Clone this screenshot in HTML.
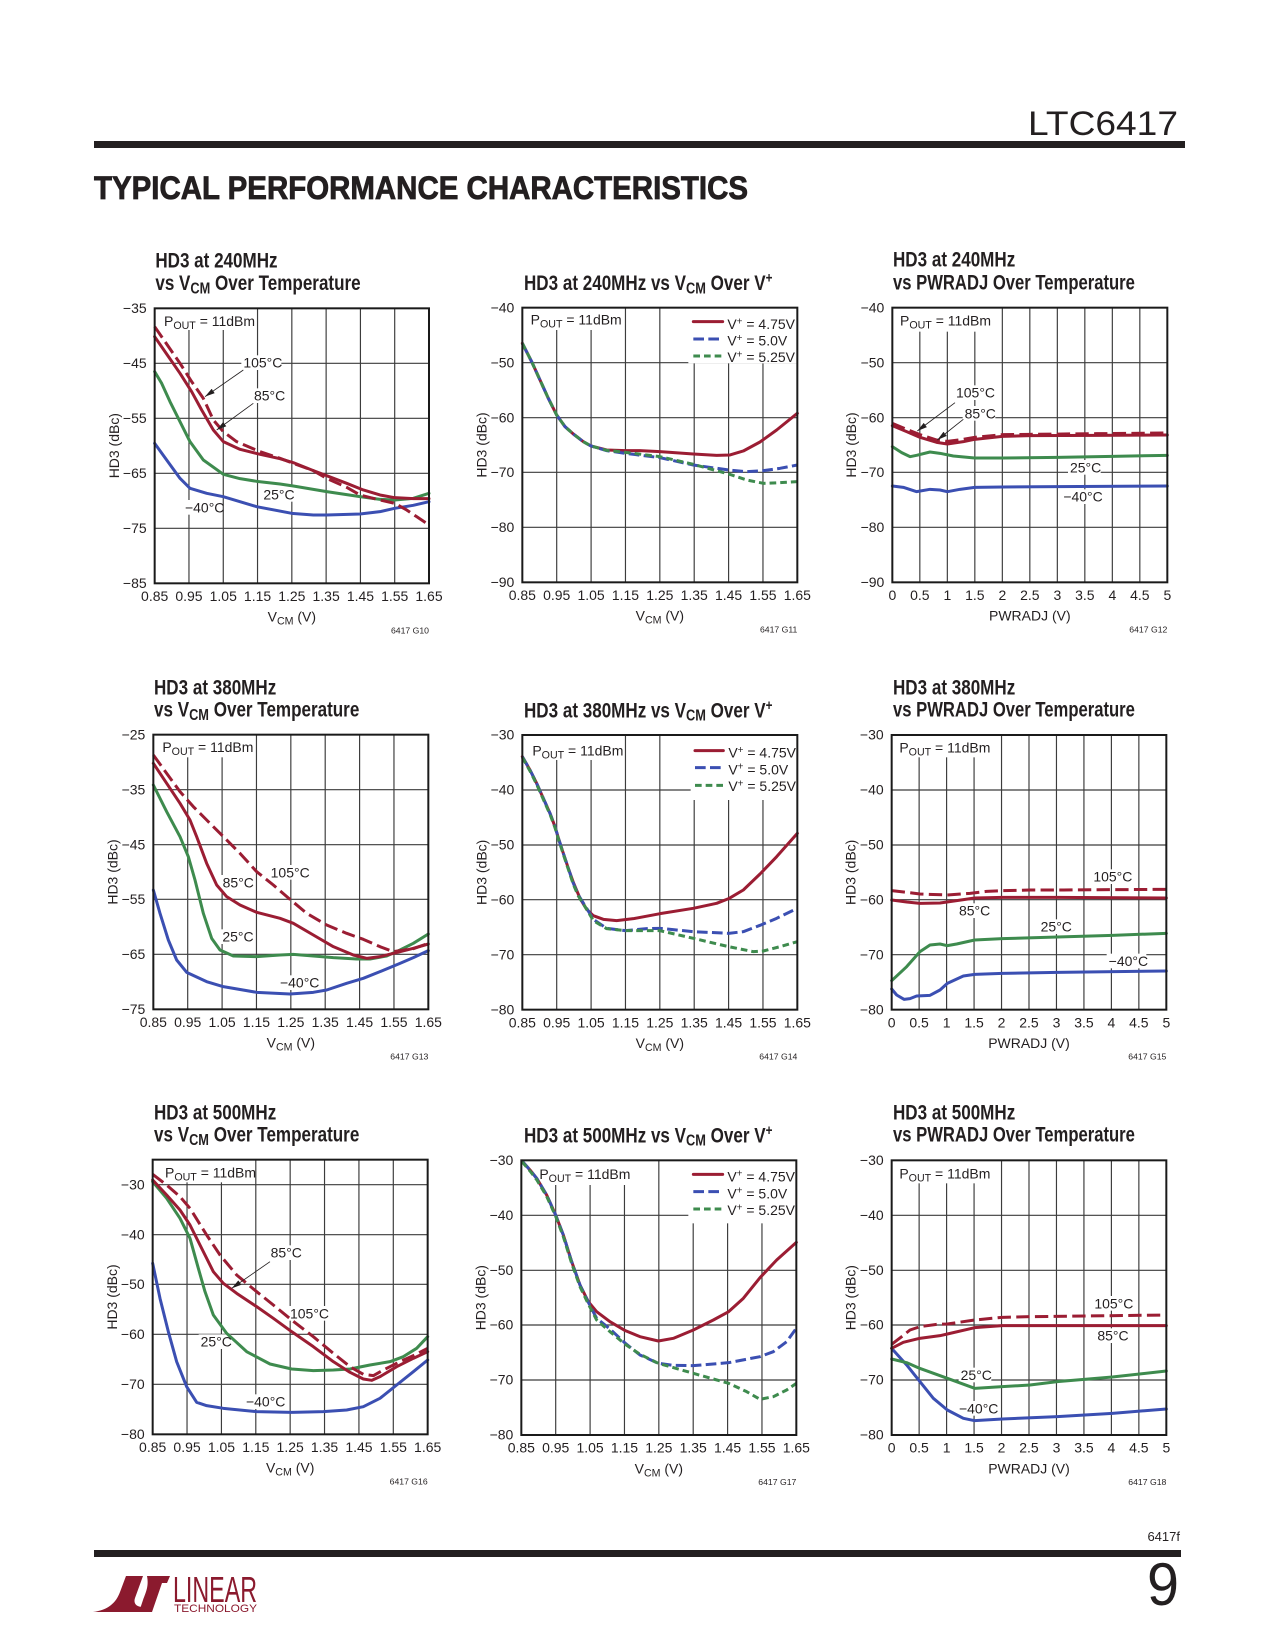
<!DOCTYPE html>
<html><head><meta charset="utf-8">
<style>
html,body{margin:0;padding:0;background:#fff;}
svg{display:block;}
svg text{font-family:"Liberation Sans",Arial,sans-serif;fill:#231f20;}
.tk{font-size:42px;}
.sm{font-size:26px;}
.ti{font-size:64px;font-weight:bold;}
.gd{stroke:#3c3c3c;stroke-width:3.5;fill:none;}
.fr{stroke:#1a1a1a;stroke-width:6;fill:none;}
.c{fill:none;stroke-width:9;stroke-linejoin:round;stroke-linecap:round;}
.rd{stroke:#9b1d33;}
.gn{stroke:#3e8b4e;}
.bu{stroke:#3b4fb2;}
.d1{stroke-dasharray:40 16;stroke-linecap:butt;}
.d2{stroke-dasharray:32 13;stroke-linecap:butt;}
.d3{stroke-dasharray:20 12;stroke-linecap:butt;}
.wb{fill:#fff;}
.ar{stroke:#231f20;stroke-width:2.5;fill:none;}
</style></head>
<body>
<svg width="1275" height="1650" viewBox="0 0 1275 1650" xmlns="http://www.w3.org/2000/svg">
<defs>
<marker id="ah" markerUnits="userSpaceOnUse" markerWidth="30" markerHeight="20" refX="30" refY="10" orient="auto"><path d="M0,2 L30,10 L0,18 z" fill="#231f20"/></marker>
</defs>

<!-- Header -->
<text x="1028" y="135" font-size="34" textLength="150" lengthAdjust="spacingAndGlyphs">LTC6417</text>
<rect x="94" y="141" width="1091" height="7" fill="#231f20"/>
<text x="94" y="199" font-size="32" font-weight="bold" textLength="654" lengthAdjust="spacingAndGlyphs" stroke="#231f20" stroke-width="0.8">TYPICAL PERFORMANCE CHARACTERISTICS</text>

<!-- ============ Chart 1 ============ -->
<g transform="translate(80,230) scale(0.33333)">
<text class="ti" transform="translate(226,112) scale(0.8,1)">HD3 at 240MHz</text>
<text class="ti" transform="translate(226,180) scale(0.8,1)">vs V<tspan font-size="48" dy="10">CM</tspan><tspan dy="-10"> Over Temperature</tspan></text>
<path class="gd" d="M326.9,235V1060M429.8,235V1060M532.6,235V1060M635.5,235V1060M738.4,235V1060M841.3,235V1060M944.1,235V1060M224,400H1047M224,565H1047M224,730H1047M224,895H1047"/>
<rect class="wb" x="226" y="237" width="289" height="63"/>
<rect class="wb" x="484" y="376" width="120" height="44"/>
<rect class="wb" x="516" y="475" width="97" height="44"/>
<rect class="wb" x="544" y="771" width="97" height="44"/>
<rect class="wb" x="309" y="810" width="117" height="44"/>
<path class="c bu" d="M224,640 L260,690 L300,745 L330,775 L380,790 L430,800 L530,830 L635,850 L700,855 L740,855 L840,852 L900,845 L944,835 L1000,826 L1047,815"/>
<path class="c gn" d="M224,425 L245,460 L270,515 L300,575 L330,635 L370,690 L430,733 L480,746 L530,754 L600,762 L640,768 L740,785 L840,800 L900,808 L944,810 L1000,805 L1047,790"/>
<path class="c rd" d="M224,320 L262,375 L300,430 L335,485 L365,540 L400,600 L430,635 L480,658 L540,673 L600,686 L640,698 L700,722 L740,737 L800,760 L850,780 L900,795 L944,803 L1000,806 L1047,806"/>
<path class="c rd d1" d="M224,290 L262,345 L300,400 L335,455 L370,505 L400,570 L430,605 L470,635 L540,665 L600,685 L640,700 L700,722 L740,745 L800,772 L840,795 L900,810 L944,820 L980,840 L1010,860 L1047,885"/>
<path class="ar" d="M490,420 L375,500" marker-end="url(#ah)"/>
<path class="ar" d="M520,520 L410,600" marker-end="url(#ah)"/>
<text class="tk" x="252" y="288">P<tspan font-size="32" dy="9">OUT</tspan><tspan dy="-9"> = 11dBm</tspan></text>
<text class="tk" x="490" y="413">105°C</text>
<text class="tk" x="522" y="512">85°C</text>
<text class="tk" x="550" y="808">25°C</text>
<text class="tk" x="315" y="847">−40°C</text>
<rect class="fr" x="224" y="235" width="823" height="825"/>
<g class="tk" text-anchor="end">
<text x="200" y="249">−35</text><text x="200" y="414">−45</text><text x="200" y="579">−55</text><text x="200" y="744">−65</text><text x="200" y="909">−75</text><text x="200" y="1074">−85</text>
</g>
<g class="tk" text-anchor="middle">
<text x="224" y="1113">0.85</text><text x="326.9" y="1113">0.95</text><text x="429.8" y="1113">1.05</text><text x="532.6" y="1113">1.15</text><text x="635.5" y="1113">1.25</text><text x="738.4" y="1113">1.35</text><text x="841.3" y="1113">1.45</text><text x="944.1" y="1113">1.55</text><text x="1047" y="1113">1.65</text>
<text x="635.5" y="1175">V<tspan font-size="32" dy="9">CM</tspan><tspan dy="-9"> (V)</tspan></text>
<text transform="translate(117,647) rotate(-90)" x="0" y="0">HD3 (dBc)</text>
</g>
<text class="sm" x="1047" y="1210" text-anchor="end">6417 G10</text>
</g>

<!-- ============ Chart 2 ============ -->
<g transform="translate(440,230) scale(0.33333)">
<text class="ti" transform="translate(252,180) scale(0.8,1)">HD3 at 240MHz vs V<tspan font-size="48" dy="10">CM</tspan><tspan dy="-10"> Over V</tspan><tspan font-size="44" dy="-22">+</tspan></text>
<path class="gd" d="M350.1,233V1057M453.3,233V1057M556.4,233V1057M659.5,233V1057M762.6,233V1057M865.8,233V1057M968.9,233V1057M247,398H1072M247,563H1072M247,727H1072M247,892H1072"/>
<rect class="wb" x="249" y="235" width="291" height="65"/>
<rect class="wb" x="745" y="235" width="325" height="165"/>
<path class="c rd" d="M247,340 L275,395 L300,450 L325,505 L350,555 L375,590 L400,612 L430,635 L453,648 L500,660 L556,662 L600,662 L660,665 L760,672 L830,676 L870,675 L910,663 L960,636 L1010,600 L1072,550"/>
<path class="c bu d2" d="M247,340 L275,395 L300,450 L325,505 L350,555 L375,590 L400,612 L430,635 L453,648 L500,662 L556,670 L660,683 L760,705 L866,720 L920,725 L970,722 L1020,715 L1072,705"/>
<path class="c gn d3" d="M247,340 L275,395 L300,450 L325,505 L350,555 L375,590 L400,612 L430,635 L453,648 L500,661 L556,667 L660,680 L760,703 L866,732 L920,750 L970,760 L1020,758 L1072,755"/>
<path class="c rd" d="M760,275H848"/>
<path class="c bu d2" d="M760,327H848"/>
<path class="c gn d3" d="M760,378H848"/>
<text class="tk" x="862" y="297">V<tspan font-size="30" dy="-14">+</tspan><tspan dy="14"> = 4.75V</tspan></text>
<text class="tk" x="862" y="347">V<tspan font-size="30" dy="-14">+</tspan><tspan dy="14"> = 5.0V</tspan></text>
<text class="tk" x="862" y="396">V<tspan font-size="30" dy="-14">+</tspan><tspan dy="14"> = 5.25V</tspan></text>
<text class="tk" x="272" y="284">P<tspan font-size="32" dy="9">OUT</tspan><tspan dy="-9"> = 11dBm</tspan></text>
<rect class="fr" x="247" y="233" width="825" height="824"/>
<g class="tk" text-anchor="end">
<text x="223" y="247">−40</text><text x="223" y="412">−50</text><text x="223" y="577">−60</text><text x="223" y="741">−70</text><text x="223" y="906">−80</text><text x="223" y="1071">−90</text>
</g>
<g class="tk" text-anchor="middle">
<text x="247" y="1110">0.85</text><text x="350.1" y="1110">0.95</text><text x="453.3" y="1110">1.05</text><text x="556.4" y="1110">1.15</text><text x="659.5" y="1110">1.25</text><text x="762.6" y="1110">1.35</text><text x="865.8" y="1110">1.45</text><text x="968.9" y="1110">1.55</text><text x="1072" y="1110">1.65</text>
<text x="659.5" y="1172">V<tspan font-size="32" dy="9">CM</tspan><tspan dy="-9"> (V)</tspan></text>
<text transform="translate(140,645) rotate(-90)" x="0" y="0">HD3 (dBc)</text>
</g>
<text class="sm" x="1072" y="1207" text-anchor="end">6417 G11</text>
</g>

<!-- ============ Chart 3 ============ -->
<g transform="translate(830,230) scale(0.33333)">
<text class="ti" transform="translate(189,110) scale(0.8,1)">HD3 at 240MHz</text>
<text class="ti" transform="translate(189,178) scale(0.78,1)">vs PWRADJ Over Temperature</text>
<path class="gd" d="M269.5,233V1057M352,233V1057M434.5,233V1057M517,233V1057M599.5,233V1057M682,233V1057M764.5,233V1057M847,233V1057M929.5,233V1057M187,398H1012M187,563H1012M187,727H1012M187,892H1012"/>
<rect class="wb" x="189" y="235" width="286" height="70"/>
<rect class="wb" x="372" y="466" width="119" height="44"/>
<rect class="wb" x="398" y="528" width="98" height="44"/>
<rect class="wb" x="714" y="690" width="98" height="44"/>
<rect class="wb" x="694" y="778" width="120" height="44"/>
<path class="c bu" d="M187,768 L220,772 L260,785 L300,778 L330,780 L352,785 L390,778 L434,772 L517,771 L682,770 L1012,768"/>
<path class="c gn" d="M187,650 L215,668 L240,680 L260,676 L300,666 L330,670 L370,678 L434,684 L517,684 L682,682 L847,679 L1012,676"/>
<path class="c rd" d="M187,587 L230,605 L270,622 L320,637 L352,642 L400,635 L434,628 L517,619 L600,617 L800,616 L1012,615"/>
<path class="c rd d1" d="M187,580 L230,598 L270,614 L320,630 L352,634 L400,628 L434,622 L517,614 L600,613 L800,611 L1012,609"/>
<path class="ar" d="M375,518 L262,603" marker-end="url(#ah)"/>
<path class="ar" d="M400,568 L322,630" marker-end="url(#ah)"/>
<text class="tk" x="210" y="287">P<tspan font-size="32" dy="9">OUT</tspan><tspan dy="-9"> = 11dBm</tspan></text>
<text class="tk" x="378" y="503">105°C</text>
<text class="tk" x="404" y="565">85°C</text>
<text class="tk" x="720" y="727">25°C</text>
<text class="tk" x="700" y="815">−40°C</text>
<rect class="fr" x="187" y="233" width="825" height="824"/>
<g class="tk" text-anchor="end">
<text x="163" y="247">−40</text><text x="163" y="412">−50</text><text x="163" y="577">−60</text><text x="163" y="741">−70</text><text x="163" y="906">−80</text><text x="163" y="1071">−90</text>
</g>
<g class="tk" text-anchor="middle">
<text x="187" y="1110">0</text><text x="269.5" y="1110">0.5</text><text x="352" y="1110">1</text><text x="434.5" y="1110">1.5</text><text x="517" y="1110">2</text><text x="599.5" y="1110">2.5</text><text x="682" y="1110">3</text><text x="764.5" y="1110">3.5</text><text x="847" y="1110">4</text><text x="929.5" y="1110">4.5</text><text x="1012" y="1110">5</text>
<text x="599.5" y="1172">PWRADJ (V)</text>
<text transform="translate(78,645) rotate(-90)" x="0" y="0">HD3 (dBc)</text>
</g>
<text class="sm" x="1012" y="1207" text-anchor="end">6417 G12</text>
</g>

<!-- ============ Chart 4 ============ -->
<g transform="translate(80,660) scale(0.33333)">
<text class="ti" transform="translate(222,103) scale(0.8,1)">HD3 at 380MHz</text>
<text class="ti" transform="translate(222,170) scale(0.8,1)">vs V<tspan font-size="48" dy="10">CM</tspan><tspan dy="-10"> Over Temperature</tspan></text>
<path class="gd" d="M323.1,224V1048M426.3,224V1048M529.4,224V1048M632.5,224V1048M735.6,224V1048M838.8,224V1048M941.9,224V1048M220,389H1045M220,554H1045M220,718H1045M220,883H1045"/>
<rect class="wb" x="222" y="226" width="288" height="66"/>
<rect class="wb" x="566" y="615" width="118" height="44"/>
<rect class="wb" x="422" y="645" width="97" height="44"/>
<rect class="wb" x="421" y="808" width="97" height="44"/>
<rect class="wb" x="594" y="946" width="120" height="44"/>
<path class="c bu" d="M220,690 L240,760 L265,840 L290,900 L320,937 L380,965 L430,980 L530,997 L630,1002 L700,997 L740,990 L800,970 L850,955 L900,935 L960,910 L1000,893 L1045,872"/>
<path class="c gn" d="M220,375 L260,455 L300,530 L325,590 L345,660 L370,760 L395,835 L420,870 L460,888 L530,890 L600,885 L640,883 L700,888 L760,893 L830,897 L870,897 L920,888 L960,870 L1000,850 L1045,822"/>
<path class="c rd" d="M220,310 L260,370 L300,430 L330,480 L350,530 L380,610 L410,675 L440,710 L480,735 L530,757 L600,775 L640,790 L700,825 L760,860 L820,885 L860,895 L900,890 L960,875 L1000,865 L1045,852"/>
<path class="c rd d1" d="M220,285 L260,340 L300,395 L340,440 L380,480 L430,530 L480,580 L530,635 L580,675 L630,718 L680,760 L740,795 L800,820 L850,838 L900,860 L940,875 L1000,866 L1045,850"/>
<text class="tk" x="247" y="276">P<tspan font-size="32" dy="9">OUT</tspan><tspan dy="-9"> = 11dBm</tspan></text>
<text class="tk" x="572" y="652">105°C</text>
<text class="tk" x="428" y="682">85°C</text>
<text class="tk" x="427" y="845">25°C</text>
<text class="tk" x="600" y="983">−40°C</text>
<rect class="fr" x="220" y="224" width="825" height="824"/>
<g class="tk" text-anchor="end">
<text x="196" y="238">−25</text><text x="196" y="403">−35</text><text x="196" y="568">−45</text><text x="196" y="732">−55</text><text x="196" y="897">−65</text><text x="196" y="1062">−75</text>
</g>
<g class="tk" text-anchor="middle">
<text x="220" y="1101">0.85</text><text x="323.1" y="1101">0.95</text><text x="426.3" y="1101">1.05</text><text x="529.4" y="1101">1.15</text><text x="632.5" y="1101">1.25</text><text x="735.6" y="1101">1.35</text><text x="838.8" y="1101">1.45</text><text x="941.9" y="1101">1.55</text><text x="1045" y="1101">1.65</text>
<text x="632.5" y="1163">V<tspan font-size="32" dy="9">CM</tspan><tspan dy="-9"> (V)</tspan></text>
<text transform="translate(113,636) rotate(-90)" x="0" y="0">HD3 (dBc)</text>
</g>
<text class="sm" x="1045" y="1198" text-anchor="end">6417 G13</text>
</g>

<!-- ============ Chart 5 ============ -->
<g transform="translate(440,660) scale(0.33333)">
<text class="ti" transform="translate(252,172) scale(0.8,1)">HD3 at 380MHz vs V<tspan font-size="48" dy="10">CM</tspan><tspan dy="-10"> Over V</tspan><tspan font-size="44" dy="-22">+</tspan></text>
<path class="gd" d="M350.1,225V1049M453.3,225V1049M556.4,225V1049M659.5,225V1049M762.6,225V1049M865.8,225V1049M968.9,225V1049M247,390H1072M247,555H1072M247,719H1072M247,884H1072"/>
<rect class="wb" x="249" y="227" width="296" height="73"/>
<rect class="wb" x="752" y="227" width="318" height="193"/>
<path class="c rd" d="M247,290 L270,330 L290,370 L310,415 L330,460 L345,500 L357,540 L370,580 L385,625 L400,667 L420,715 L440,748 L460,767 L490,778 L530,782 L580,776 L660,761 L760,745 L830,730 L866,716 L910,690 L960,642 L1010,590 L1072,520"/>
<path class="c bu d2" d="M247,290 L270,330 L290,370 L310,415 L330,460 L345,500 L357,540 L370,580 L385,625 L400,670 L415,705 L440,745 L460,778 L500,805 L556,812 L620,806 L660,805 L760,815 L866,820 L910,815 L960,796 L1010,775 L1072,745"/>
<path class="c gn d3" d="M247,292 L270,333 L290,373 L310,418 L330,463 L345,503 L357,543 L370,583 L385,628 L400,673 L415,708 L440,748 L460,782 L500,806 L556,812 L660,812 L760,835 L866,860 L940,875 L970,873 L1020,860 L1072,845"/>
<path class="c rd" d="M765,272H850"/>
<path class="c bu d2" d="M765,323H850"/>
<path class="c gn d3" d="M765,376H850"/>
<text class="tk" x="865" y="293">V<tspan font-size="30" dy="-14">+</tspan><tspan dy="14"> = 4.75V</tspan></text>
<text class="tk" x="865" y="343">V<tspan font-size="30" dy="-14">+</tspan><tspan dy="14"> = 5.0V</tspan></text>
<text class="tk" x="865" y="393">V<tspan font-size="30" dy="-14">+</tspan><tspan dy="14"> = 5.25V</tspan></text>
<text class="tk" x="277" y="287">P<tspan font-size="32" dy="9">OUT</tspan><tspan dy="-9"> = 11dBm</tspan></text>
<rect class="fr" x="247" y="225" width="825" height="824"/>
<g class="tk" text-anchor="end">
<text x="223" y="239">−30</text><text x="223" y="404">−40</text><text x="223" y="569">−50</text><text x="223" y="733">−60</text><text x="223" y="898">−70</text><text x="223" y="1063">−80</text>
</g>
<g class="tk" text-anchor="middle">
<text x="247" y="1102">0.85</text><text x="350.1" y="1102">0.95</text><text x="453.3" y="1102">1.05</text><text x="556.4" y="1102">1.15</text><text x="659.5" y="1102">1.25</text><text x="762.6" y="1102">1.35</text><text x="865.8" y="1102">1.45</text><text x="968.9" y="1102">1.55</text><text x="1072" y="1102">1.65</text>
<text x="659.5" y="1164">V<tspan font-size="32" dy="9">CM</tspan><tspan dy="-9"> (V)</tspan></text>
<text transform="translate(140,637) rotate(-90)" x="0" y="0">HD3 (dBc)</text>
</g>
<text class="sm" x="1072" y="1199" text-anchor="end">6417 G14</text>
</g>

<!-- ============ Chart 6 ============ -->
<g transform="translate(830,660) scale(0.33333)">
<text class="ti" transform="translate(189,103) scale(0.8,1)">HD3 at 380MHz</text>
<text class="ti" transform="translate(189,170) scale(0.78,1)">vs PWRADJ Over Temperature</text>
<path class="gd" d="M267.4,225V1049M349.8,225V1049M432.2,225V1049M514.6,225V1049M597,225V1049M679.4,225V1049M761.8,225V1049M844.2,225V1049M926.6,225V1049M185,390H1009M185,555H1009M185,719H1009M185,884H1009"/>
<rect class="wb" x="187" y="227" width="288" height="65"/>
<rect class="wb" x="784" y="628" width="117" height="44"/>
<rect class="wb" x="381" y="730" width="95" height="44"/>
<rect class="wb" x="626" y="778" width="96" height="44"/>
<rect class="wb" x="830" y="881" width="119" height="44"/>
<path class="c bu" d="M185,987 L200,1005 L222,1018 L240,1016 L260,1008 L300,1006 L330,990 L352,970 L400,948 L434,943 L517,940 L682,937 L1009,933"/>
<path class="c gn" d="M185,962 L230,920 L270,875 L300,855 L330,852 L352,857 L380,852 L434,840 L517,836 L682,831 L847,826 L1009,820"/>
<path class="c rd" d="M185,720 L230,726 L270,730 L330,729 L380,722 L434,714 L517,712 L682,712 L1009,714"/>
<path class="c rd d1" d="M185,692 L230,697 L270,702 L352,705 L420,700 L470,694 L517,692 L600,690 L700,690 L847,689 L1009,688"/>
<text class="tk" x="208" y="277">P<tspan font-size="32" dy="9">OUT</tspan><tspan dy="-9"> = 11dBm</tspan></text>
<text class="tk" x="790" y="665">105°C</text>
<text class="tk" x="387" y="767">85°C</text>
<text class="tk" x="632" y="815">25°C</text>
<text class="tk" x="836" y="918">−40°C</text>
<rect class="fr" x="185" y="225" width="824" height="824"/>
<g class="tk" text-anchor="end">
<text x="161" y="239">−30</text><text x="161" y="404">−40</text><text x="161" y="569">−50</text><text x="161" y="733">−60</text><text x="161" y="898">−70</text><text x="161" y="1063">−80</text>
</g>
<g class="tk" text-anchor="middle">
<text x="185" y="1102">0</text><text x="267.4" y="1102">0.5</text><text x="349.8" y="1102">1</text><text x="432.2" y="1102">1.5</text><text x="514.6" y="1102">2</text><text x="597" y="1102">2.5</text><text x="679.4" y="1102">3</text><text x="761.8" y="1102">3.5</text><text x="844.2" y="1102">4</text><text x="926.6" y="1102">4.5</text><text x="1009" y="1102">5</text>
<text x="597" y="1164">PWRADJ (V)</text>
<text transform="translate(76,637) rotate(-90)" x="0" y="0">HD3 (dBc)</text>
</g>
<text class="sm" x="1009" y="1199" text-anchor="end">6417 G15</text>
</g>

<!-- ============ Chart 7 ============ -->
<g transform="translate(80,1085) scale(0.33333)">
<text class="ti" transform="translate(222,103) scale(0.8,1)">HD3 at 500MHz</text>
<text class="ti" transform="translate(222,170) scale(0.8,1)">vs V<tspan font-size="48" dy="10">CM</tspan><tspan dy="-10"> Over Temperature</tspan></text>
<path class="gd" d="M321.1,224V1048M424.3,224V1048M527.4,224V1048M630.5,224V1048M733.6,224V1048M836.8,224V1048M939.9,224V1048M218,299H1043M218,449H1043M218,598H1043M218,748H1043M218,898H1043"/>
<rect class="wb" x="220" y="226" width="298" height="66"/>
<rect class="wb" x="566" y="481" width="96" height="44"/>
<rect class="wb" x="624" y="663" width="118" height="44"/>
<rect class="wb" x="356" y="748" width="96" height="44"/>
<rect class="wb" x="492" y="928" width="120" height="44"/>
<path class="c bu" d="M218,535 L240,640 L265,740 L290,830 L320,905 L350,952 L380,962 L430,970 L530,980 L635,982 L730,980 L800,975 L850,965 L900,940 L950,900 L1000,860 L1043,825"/>
<path class="c gn" d="M218,290 L260,340 L300,400 L330,460 L355,550 L375,620 L400,690 L440,745 L500,800 L570,837 L635,852 L700,857 L760,855 L810,852 L870,840 L930,830 L970,815 L1010,790 L1043,755"/>
<path class="c rd" d="M218,285 L260,330 L300,375 L330,420 L360,480 L400,560 L430,595 L470,625 L530,665 L580,700 L635,740 L700,785 L760,830 L810,862 L850,882 L875,886 L900,875 L950,845 L1000,820 L1043,800"/>
<path class="c rd d1" d="M218,268 L260,300 L300,335 L330,370 L355,410 L380,450 L420,510 L470,570 L530,620 L580,660 L635,705 L700,755 L760,805 L810,845 L850,868 L880,872 L910,855 L960,830 L1000,812 L1043,790"/>
<path class="ar" d="M570,530 L455,610" marker-end="url(#ah)"/>
<text class="tk" x="255" y="277">P<tspan font-size="32" dy="9">OUT</tspan><tspan dy="-9"> = 11dBm</tspan></text>
<text class="tk" x="572" y="518">85°C</text>
<text class="tk" x="630" y="700">105°C</text>
<text class="tk" x="362" y="785">25°C</text>
<text class="tk" x="498" y="965">−40°C</text>
<rect class="fr" x="218" y="224" width="825" height="824"/>
<g class="tk" text-anchor="end">
<text x="194" y="313">−30</text><text x="194" y="463">−40</text><text x="194" y="612">−50</text><text x="194" y="762">−60</text><text x="194" y="912">−70</text><text x="194" y="1062">−80</text>
</g>
<g class="tk" text-anchor="middle">
<text x="218" y="1101">0.85</text><text x="321.1" y="1101">0.95</text><text x="424.3" y="1101">1.05</text><text x="527.4" y="1101">1.15</text><text x="630.5" y="1101">1.25</text><text x="733.6" y="1101">1.35</text><text x="836.8" y="1101">1.45</text><text x="939.9" y="1101">1.55</text><text x="1043" y="1101">1.65</text>
<text x="630.5" y="1163">V<tspan font-size="32" dy="9">CM</tspan><tspan dy="-9"> (V)</tspan></text>
<text transform="translate(111,636) rotate(-90)" x="0" y="0">HD3 (dBc)</text>
</g>
<text class="sm" x="1043" y="1198" text-anchor="end">6417 G16</text>
</g>

<!-- ============ Chart 8 ============ -->
<g transform="translate(440,1085) scale(0.33333)">
<text class="ti" transform="translate(252,172) scale(0.8,1)">HD3 at 500MHz vs V<tspan font-size="48" dy="10">CM</tspan><tspan dy="-10"> Over V</tspan><tspan font-size="44" dy="-22">+</tspan></text>
<path class="gd" d="M347.1,226V1050M450.3,226V1050M553.4,226V1050M656.5,226V1050M759.6,226V1050M862.8,226V1050M965.9,226V1050M244,391H1069M244,556H1069M244,720H1069M244,885H1069"/>
<rect class="wb" x="246" y="228" width="319" height="72"/>
<rect class="wb" x="745" y="228" width="322" height="187"/>
<path class="c rd" d="M246,228 L270,255 L290,280 L320,330 L347,390 L370,450 L395,530 L420,600 L445,650 L470,680 L510,710 L556,737 L600,755 L655,768 L700,760 L760,735 L820,705 L866,680 L910,640 L960,578 L1010,525 L1069,472"/>
<path class="c bu d2" d="M246,228 L270,255 L290,280 L320,330 L347,390 L370,450 L395,530 L420,600 L445,652 L470,700 L510,732 L556,775 L600,810 L655,835 L700,841 L760,842 L866,833 L960,815 L1000,800 L1040,770 L1069,730"/>
<path class="c gn d3" d="M246,230 L270,258 L290,284 L320,334 L347,394 L370,455 L395,535 L420,605 L445,657 L470,705 L510,740 L556,778 L600,808 L655,835 L760,865 L866,895 L920,920 L960,943 L1000,935 L1040,915 L1069,895"/>
<path class="c rd" d="M760,268H848"/>
<path class="c bu d2" d="M760,320H848"/>
<path class="c gn d3" d="M760,372H848"/>
<text class="tk" x="862" y="289">V<tspan font-size="30" dy="-14">+</tspan><tspan dy="14"> = 4.75V</tspan></text>
<text class="tk" x="862" y="340">V<tspan font-size="30" dy="-14">+</tspan><tspan dy="14"> = 5.0V</tspan></text>
<text class="tk" x="862" y="390">V<tspan font-size="30" dy="-14">+</tspan><tspan dy="14"> = 5.25V</tspan></text>
<text class="tk" x="298" y="282">P<tspan font-size="32" dy="9">OUT</tspan><tspan dy="-9"> = 11dBm</tspan></text>
<rect class="fr" x="244" y="226" width="825" height="824"/>
<g class="tk" text-anchor="end">
<text x="220" y="240">−30</text><text x="220" y="405">−40</text><text x="220" y="570">−50</text><text x="220" y="734">−60</text><text x="220" y="899">−70</text><text x="220" y="1064">−80</text>
</g>
<g class="tk" text-anchor="middle">
<text x="244" y="1103">0.85</text><text x="347.1" y="1103">0.95</text><text x="450.3" y="1103">1.05</text><text x="553.4" y="1103">1.15</text><text x="656.5" y="1103">1.25</text><text x="759.6" y="1103">1.35</text><text x="862.8" y="1103">1.45</text><text x="965.9" y="1103">1.55</text><text x="1069" y="1103">1.65</text>
<text x="656.5" y="1165">V<tspan font-size="32" dy="9">CM</tspan><tspan dy="-9"> (V)</tspan></text>
<text transform="translate(137,638) rotate(-90)" x="0" y="0">HD3 (dBc)</text>
</g>
<text class="sm" x="1069" y="1200" text-anchor="end">6417 G17</text>
</g>

<!-- ============ Chart 9 ============ -->
<g transform="translate(830,1085) scale(0.33333)">
<text class="ti" transform="translate(189,103) scale(0.8,1)">HD3 at 500MHz</text>
<text class="ti" transform="translate(189,170) scale(0.78,1)">vs PWRADJ Over Temperature</text>
<path class="gd" d="M267.4,226V1050M349.8,226V1050M432.2,226V1050M514.6,226V1050M597,226V1050M679.4,226V1050M761.8,226V1050M844.2,226V1050M926.6,226V1050M185,391H1009M185,556H1009M185,720H1009M185,885H1009"/>
<rect class="wb" x="187" y="228" width="288" height="67"/>
<rect class="wb" x="787" y="633" width="117" height="44"/>
<rect class="wb" x="796" y="730" width="95" height="44"/>
<rect class="wb" x="386" y="848" width="98" height="44"/>
<rect class="wb" x="381" y="948" width="118" height="44"/>
<path class="c bu" d="M185,790 L230,840 L270,890 L310,940 L352,975 L400,1000 L434,1007 L517,1002 L682,995 L847,985 L1009,972"/>
<path class="c gn" d="M185,822 L230,833 L269,850 L352,880 L434,910 L517,905 L600,900 L682,890 L847,876 L1009,858"/>
<path class="c rd" d="M185,790 L220,772 L269,760 L330,752 L352,747 L434,728 L517,722 L1009,722"/>
<path class="c rd d1" d="M185,778 L215,755 L240,735 L270,725 L320,718 L352,717 L434,705 L517,697 L600,695 L1009,690"/>
<text class="tk" x="208" y="280">P<tspan font-size="32" dy="9">OUT</tspan><tspan dy="-9"> = 11dBm</tspan></text>
<text class="tk" x="793" y="670">105°C</text>
<text class="tk" x="802" y="767">85°C</text>
<text class="tk" x="392" y="885">25°C</text>
<text class="tk" x="387" y="985">−40°C</text>
<rect class="fr" x="185" y="226" width="824" height="824"/>
<g class="tk" text-anchor="end">
<text x="161" y="240">−30</text><text x="161" y="405">−40</text><text x="161" y="570">−50</text><text x="161" y="734">−60</text><text x="161" y="899">−70</text><text x="161" y="1064">−80</text>
</g>
<g class="tk" text-anchor="middle">
<text x="185" y="1103">0</text><text x="267.4" y="1103">0.5</text><text x="349.8" y="1103">1</text><text x="432.2" y="1103">1.5</text><text x="514.6" y="1103">2</text><text x="597" y="1103">2.5</text><text x="679.4" y="1103">3</text><text x="761.8" y="1103">3.5</text><text x="844.2" y="1103">4</text><text x="926.6" y="1103">4.5</text><text x="1009" y="1103">5</text>
<text x="597" y="1165">PWRADJ (V)</text>
<text transform="translate(76,638) rotate(-90)" x="0" y="0">HD3 (dBc)</text>
</g>
<text class="sm" x="1009" y="1200" text-anchor="end">6417 G18</text>
</g>

<!-- Footer -->
<text x="1180" y="1541" font-size="13" text-anchor="end">6417f</text>
<rect x="94" y="1550" width="1087" height="7" fill="#231f20"/>
<text x="1147" y="1605" font-size="60" textLength="32" lengthAdjust="spacingAndGlyphs">9</text>
<g fill="#8b1a2e">
<path d="M93,1612 C108,1610 116,1603 120,1592 L126,1576 L143,1576 L135,1598 C133,1604 137,1607 143,1607 L146,1607 L144,1612 Z"/>
<path d="M147,1576 L170,1576 L167,1583 L162,1583 L152,1612 L139,1612 L143,1600 C146,1592 149,1586 147,1576 Z"/>
</g>
<text x="173" y="1602" font-size="36" textLength="84" lengthAdjust="spacingAndGlyphs" style="fill:#8b1a2e">LINEAR</text>
<text x="174" y="1612" font-size="11" textLength="83" lengthAdjust="spacingAndGlyphs" style="fill:#8b1a2e">TECHNOLOGY</text>
</svg>
</body></html>
